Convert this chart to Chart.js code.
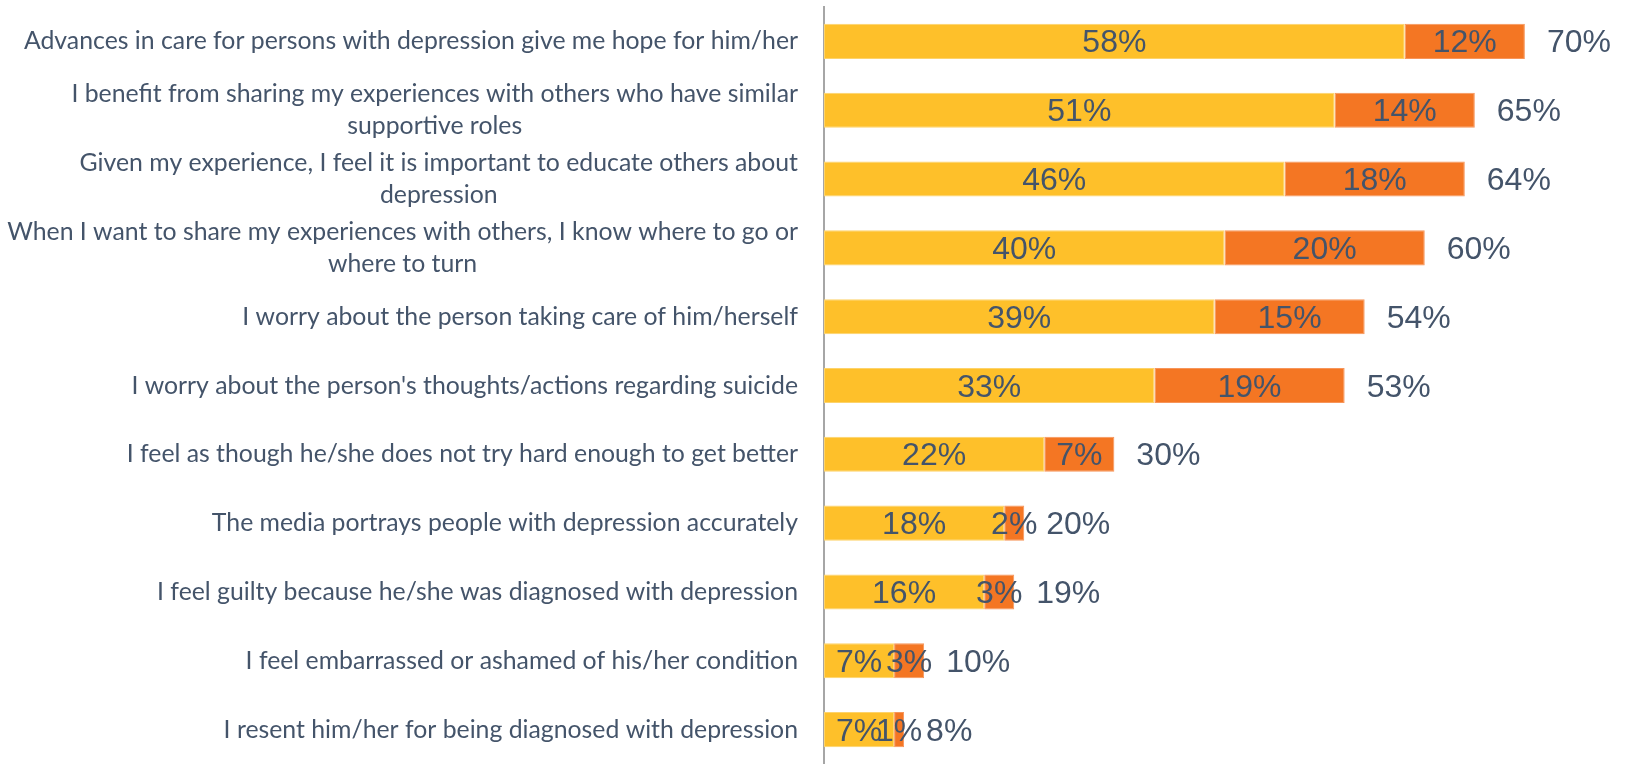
<!DOCTYPE html>
<html>
<head>
<meta charset="utf-8">
<script src="https://cdn.jsdelivr.net/npm/chart.js@4/dist/chart.umd.min.js"></script>
<style>
  html, body { margin: 0; padding: 0; background: #fff; overflow: hidden; }
</style>
</head>
<body>
<canvas id="graficoConcordancia" width="1625" height="764"></canvas>
<script>
// Categorias (cada linha do rótulo em um item)
const categorias = [
    ["Advances in care for persons with depression give me hope for him/her"],
    ["I benefit from sharing my experiences with others who have similar", "supportive roles"],
    ["Given my experience, I feel it is important to educate others about", "depression"],
    ["When I want to share my experiences with others, I know where to go or", "where to turn"],
    ["I worry about the person taking care of him/herself"],
    ["I worry about the person's thoughts/actions regarding suicide"],
    ["I feel as though he/she does not try hard enough to get better"],
    ["The media portrays people with depression accurately"],
    ["I feel guilty because he/she was diagnosed with depression"],
    ["I feel embarrassed or ashamed of his/her condition"],
    ["I resent him/her for being diagnosed with depression"]
];

// Valores das séries (%)
const concordaTotalmente = [58, 51, 46, 40, 39, 33, 22, 18, 16, 7, 7];
const concordaEmParte = [12, 14, 18, 20, 15, 19, 7, 2, 3, 3, 1];
const totais = [70, 65, 64, 60, 54, 53, 30, 20, 19, 10, 8];

const corTexto = "#44546A";
const corAmarelo = "#FEC02A";
const corLaranja = "#F47623";

// Desenha os rótulos das categorias e os valores das barras
const rotulosPlugin = {
    id: "rotulos",
    afterDatasetsDraw(chart) {
        const ctx = chart.ctx;
        const yScale = chart.scales.y;
        const area = chart.chartArea;
        ctx.save();
        ctx.fillStyle = corTexto;

        // rótulos das categorias, linhas centralizadas no bloco alinhado à direita
        ctx.font = "24.8px Lato";
        ctx.textAlign = "center";
        ctx.textBaseline = "alphabetic";
        const direita = area.left - 26;
        const alturaLinha = 32;
        categorias.forEach((linhas, i) => {
            const y = yScale.getPixelForValue(i);
            const largura = Math.max(...linhas.map(l => ctx.measureText(l).width));
            const cx = direita - largura / 2;
            linhas.forEach((linha, j) => {
                const dy = (j - (linhas.length - 1) / 2) * alturaLinha;
                ctx.fillText(linha, cx, y + dy + 8);
            });
        });

        // valores dentro das barras
        ctx.font = "32px 'Liberation Sans', Arial";
        chart.data.datasets.forEach((ds, d) => {
            chart.getDatasetMeta(d).data.forEach((bar, i) => {
                const cx = (bar.x + bar.base) / 2;
                ctx.fillText(ds.data[i] + "%", cx, bar.y + 11);
            });
        });

        // totais à direita das barras
        ctx.textAlign = "left";
        chart.getDatasetMeta(1).data.forEach((bar, i) => {
            ctx.fillText(totais[i] + "%", bar.x + 22, bar.y + 11);
        });
        ctx.restore();
    }
};

const ctx = document.getElementById("graficoConcordancia").getContext("2d");
new Chart(ctx, {
    type: "bar",
    data: {
        labels: categorias.map(l => l.join(" ")),
        datasets: [
            {
                label: "Strongly agree",
                data: concordaTotalmente,
                backgroundColor: corAmarelo,
                borderColor: "#FDD36B",
                borderWidth: 1,
                borderSkipped: false
            },
            {
                label: "Somewhat agree",
                data: concordaEmParte,
                backgroundColor: corLaranja,
                borderColor: "#F7955A",
                borderWidth: 1,
                borderSkipped: false
            }
        ]
    },
    options: {
        indexAxis: "y",
        responsive: false,
        animation: false,
        layout: { padding: { top: 7, right: 0, bottom: 0, left: 0 } },
        barPercentage: 0.51,
        categoryPercentage: 1,
        plugins: {
            legend: { display: false },
            tooltip: { enabled: false }
        },
        scales: {
            x: {
                stacked: true,
                min: 0,
                max: 80,
                display: false
            },
            y: {
                stacked: true,
                grid: { display: false, drawTicks: false },
                ticks: { display: false },
                border: { display: true, color: "#A6A6A6", width: 2 },
                afterFit(scale) {
                    scale.width = 824;
                }
            }
        }
    },
    plugins: [rotulosPlugin]
});
</script>
</body>
</html>
